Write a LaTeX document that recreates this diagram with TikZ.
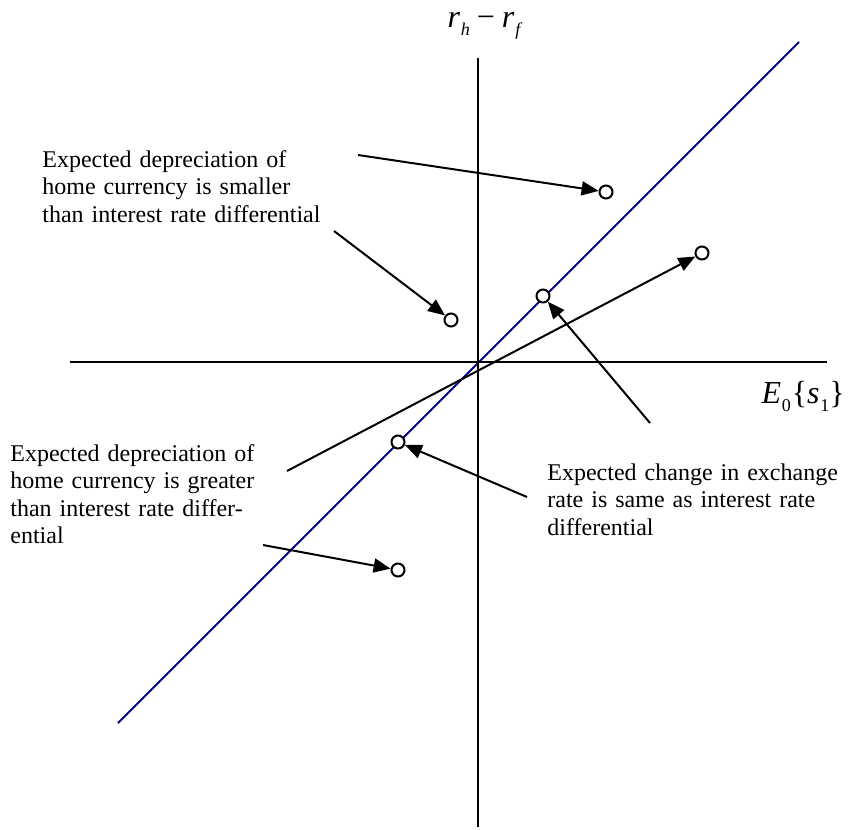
\documentclass[tikz,border=0pt]{standalone}
\usepackage{fontspec}
\setmainfont{Liberation Serif}
\usetikzlibrary{arrows.meta}
\definecolor{navyline}{RGB}{0,0,140}
\begin{document}
\begin{tikzpicture}[x=0.5pt,y=-0.5pt,
  axisline/.style={line width=1pt,black},
  diagline/.style={line width=1pt,navyline},
  pointer/.style={line width=1pt,black,-{Triangle[length=8.5pt,width=7pt]}},
  dot/.style={circle,draw,line width=1pt,fill=white,minimum size=6.5pt,inner sep=0pt},
  note/.style={anchor=base west,inner sep=0pt,align=left,font=\fontsize{12}{13.8}\selectfont},
  axislabel/.style={inner sep=0pt,font=\fontsize{16}{16}\selectfont}
]
\useasboundingbox (0,0) rectangle (849,829);
% diagonal line
\coordinate (dl1) at (118,723);
\coordinate (dl2) at (799,42);
\draw[diagline] (dl1) -- (dl2);
% axes
\coordinate (vtop) at (478,58);
\coordinate (vbot) at (478,827);
\coordinate (hleft) at (70,362);
\coordinate (hright) at (827,362);
\draw[axisline] (vtop) -- (vbot);
\draw[axisline] (hleft) -- (hright);
% labels of axes
\node[axislabel,anchor=base] (ylab) at (484,28) {\itshape r\kern0.3pt\raisebox{-4pt}{\fontsize{9}{9}\selectfont h}\hspace{3.5pt}\upshape −\hspace{3.5pt}\itshape r\kern0.5pt\raisebox{-4pt}{\fontsize{9}{9}\selectfont f}};
\node[axislabel,anchor=base east] (xlab) at (845,403) {\itshape E\kern0.3pt\raisebox{-4pt}{\fontsize{9}{9}\selectfont\upshape 0}\kern0.5pt\upshape\{\itshape s\kern0.3pt\raisebox{-4pt}{\fontsize{9}{9}\selectfont\upshape 1}\upshape\}};
% points
\node[dot] (p1) at (606,192) {};
\node[dot] (p2) at (451,320) {};
\node[dot] (p3) at (702,253) {};
\node[dot] (p4) at (543,296) {};
\node[dot] (p5) at (398,442) {};
\node[dot] (p6) at (398,570) {};
% pointer starts
\coordinate (s1) at (358,155);
\coordinate (s2) at (334,231);
\coordinate (s3) at (287,471);
\coordinate (s4) at (650,423);
\coordinate (s5) at (527,497);
\coordinate (s6) at (263,545);
\draw[pointer] (s1) -- (p1);
\draw[pointer] (s2) -- (p2);
\draw[pointer] (s3) -- (p3);
\draw[pointer] (s4) -- (p4);
\draw[pointer] (s5) -- (p5);
\draw[pointer] (s6) -- (p6);
% notes
\node[note,text width=170pt] (n1) at (42,167) {Expected depreciation of\\home currency is smaller\\than interest rate differential};
\node[note,text width=150pt] (n2) at (10,461) {Expected depreciation of\\home currency is greater\\than interest rate differ-\\ential};
\node[note,text width=170pt] (n3) at (547,480) {Expected change in exchange\\rate is same as interest rate\\differential};
\end{tikzpicture}
\end{document}
